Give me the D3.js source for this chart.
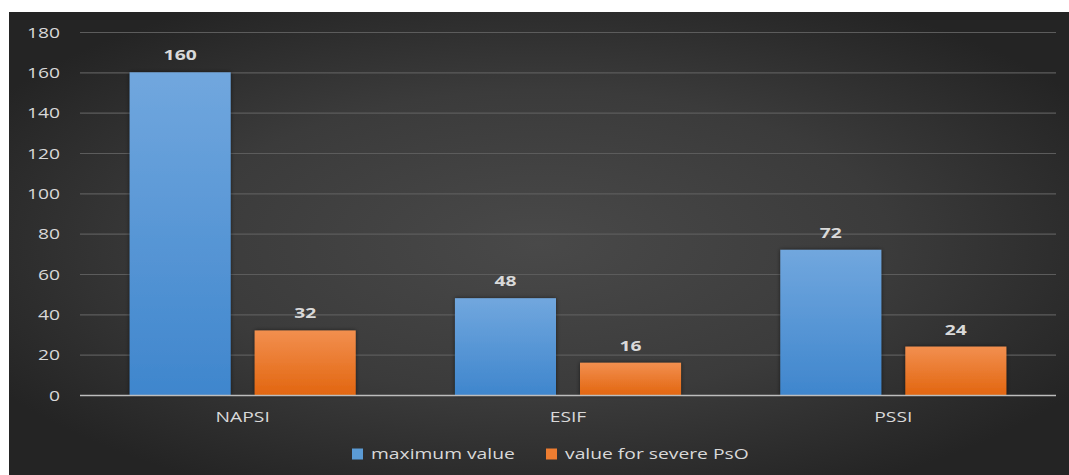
<!DOCTYPE html>
<html>
<head>
<meta charset="utf-8">
<script src="https://cdn.jsdelivr.net/npm/d3@7"></script>
<style>
  html, body { margin: 0; padding: 0; background: #ffffff; }
  svg { display: block; }
  text { font-family: "Open Sans", "Lato", sans-serif; }
</style>
</head>
<body>
<svg id="chart" width="1069" height="475"></svg>
<script>
// Index scores
const categories = ["NAPSI", "ESIF", "PSSI"];
const seriesNames = ["maximum value", "value for severe PsO"];
const maximumValue = [160, 48, 72];
const severeValue = [32, 16, 24];
const yTicks = [0, 20, 40, 60, 80, 100, 120, 140, 160, 180];

const W = 1069, H = 475;
const panel = { x: 9, y: 12, w: W - 9, h: H - 12 };
const plot = { left: 80, right: 1056, top: 32, bottom: 395 };
const TEXT_SX = 1.33;        // wide lettering
const FONT = 14.5;

const svg = d3.select("#chart");
const defs = svg.append("defs");

// Dark panel with a lighter centre
const bg = defs.append("radialGradient").attr("id", "bgGrad")
  .attr("cx", "50%").attr("cy", "50%").attr("r", "60%")
  .attr("gradientUnits", "objectBoundingBox");
bg.append("stop").attr("offset", "0%").attr("stop-color", "#494949");
bg.append("stop").attr("offset", "55%").attr("stop-color", "#3b3b3b");
bg.append("stop").attr("offset", "100%").attr("stop-color", "#242424");

const barGrad = (id, top, bottom) => {
  const g = defs.append("linearGradient").attr("id", id)
    .attr("x1", 0).attr("y1", 0).attr("x2", 0).attr("y2", 1);
  g.append("stop").attr("offset", "0%").attr("stop-color", top);
  g.append("stop").attr("offset", "100%").attr("stop-color", bottom);
};
barGrad("blueGrad", "#71a7de", "#3f86cd");
barGrad("orangeGrad", "#f28f4f", "#e26610");

const shadow = defs.append("filter").attr("id", "barShadow")
  .attr("x", "-10%").attr("y", "-10%").attr("width", "120%").attr("height", "120%");
shadow.append("feDropShadow").attr("dx", 0).attr("dy", 0)
  .attr("stdDeviation", 2).attr("flood-color", "#000").attr("flood-opacity", 0.55);

svg.append("rect")
  .attr("x", panel.x).attr("y", panel.y)
  .attr("width", panel.w).attr("height", panel.h)
  .attr("fill", "url(#bgGrad)");

const x0 = d3.scaleBand().domain(categories)
  .range([plot.left, plot.right]).paddingInner(0).paddingOuter(0);
const x1 = d3.scaleBand().domain(seriesNames)
  .range([0, x0.bandwidth()]).paddingInner(0.192).paddingOuter(0.397);
const y = d3.scaleLinear().domain([0, 180]).range([plot.bottom, plot.top]);

// Gridlines
svg.append("g").selectAll("line")
  .data(yTicks.filter(d => d > 0))
  .join("line")
  .attr("x1", plot.left).attr("x2", plot.right)
  .attr("y1", d => y(d) + 0.5).attr("y2", d => y(d) + 0.5)
  .attr("stroke", "#5c5c5c").attr("stroke-width", 1.2);

// Y axis labels
const yAxis = d3.axisLeft(y).tickValues(yTicks).tickSize(0).tickPadding(0);
const ya = svg.append("g").attr("transform", `translate(60,0)`).call(yAxis);
ya.select(".domain").remove();
ya.selectAll("text")
  .attr("x", 0)
  .attr("fill", "#d9d9d9").attr("font-size", FONT).attr("dy", "0.35em")
  .attr("transform", `scale(${TEXT_SX},1)`);

// Bars
const rows = categories.map((c, i) => ({
  cat: c,
  vals: [
    { key: seriesNames[0], v: maximumValue[i], fill: "url(#blueGrad)" },
    { key: seriesNames[1], v: severeValue[i], fill: "url(#orangeGrad)" }
  ]
}));

const groups = svg.append("g").selectAll("g")
  .data(rows).join("g")
  .attr("transform", d => `translate(${x0(d.cat)},0)`);

groups.selectAll("rect")
  .data(d => d.vals).join("rect")
  .attr("x", d => x1(d.key))
  .attr("y", d => y(d.v))
  .attr("width", x1.bandwidth())
  .attr("height", d => y(0) - y(d.v))
  .attr("fill", d => d.fill)
  .attr("filter", "url(#barShadow)");

groups.selectAll("text.val")
  .data(d => d.vals).join("text")
  .attr("class", "val")
  .attr("transform", d =>
    `translate(${x1(d.key) + x1.bandwidth() / 2},${y(d.v) - 12}) scale(${TEXT_SX},1)`)
  .attr("text-anchor", "middle")
  .attr("fill", "#d9d9d9")
  .attr("font-size", FONT)
  .attr("font-weight", "bold")
  .text(d => d.v);

// Baseline axis
svg.append("line")
  .attr("x1", plot.left).attr("x2", plot.right)
  .attr("y1", y(0) + 0.5).attr("y2", y(0) + 0.5)
  .attr("stroke", "#bdbdbd").attr("stroke-width", 1.5);

const xAxis = d3.axisBottom(x0).tickSize(0).tickPadding(0);
const xa = svg.append("g").attr("transform", `translate(0,${plot.bottom})`).call(xAxis);
xa.select(".domain").remove();
xa.selectAll("text")
  .attr("fill", "#d9d9d9").attr("font-size", FONT)
  .attr("y", 0).attr("dy", 0)
  .attr("transform", `translate(0,27) scale(${TEXT_SX},1)`);

// Legend
const legendItems = [
  { name: seriesNames[0], color: "#5b9bd5", x: 352 },
  { name: seriesNames[1], color: "#ed7d31", x: 546 }
];
const lg = svg.append("g").selectAll("g")
  .data(legendItems).join("g")
  .attr("transform", d => `translate(${d.x},454)`);
lg.append("rect").attr("x", 0).attr("y", -5.5)
  .attr("width", 11).attr("height", 11).attr("fill", d => d.color);
lg.append("text")
  .attr("transform", `translate(19,0) scale(${TEXT_SX},1)`)
  .attr("dy", "0.35em")
  .attr("fill", "#d9d9d9").attr("font-size", FONT)
  .text(d => d.name);
</script>
</body>
</html>
